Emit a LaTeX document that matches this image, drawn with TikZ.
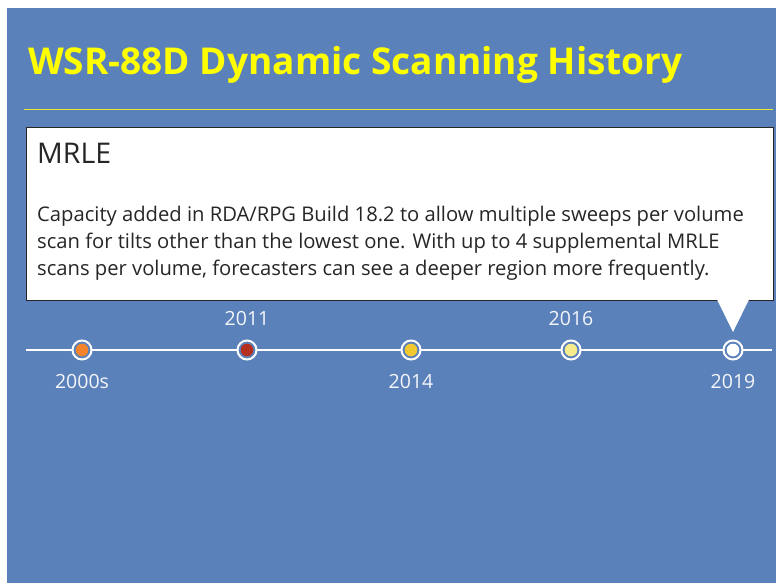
\documentclass[tikz,border=0pt]{standalone}
\usepackage{fontspec}
\setmainfont{Open Sans}
\usepackage{xcolor}
\usetikzlibrary{positioning}

\definecolor{slideblue}{HTML}{5B81BB}
\definecolor{titleyellow}{HTML}{FFFF00}
\definecolor{ruleyellow}{HTML}{E3EA2E}
\definecolor{dotorange}{HTML}{F4842C}
\definecolor{dotred}{HTML}{B3311E}
\definecolor{dotgold}{HTML}{F2C830}
\definecolor{dotpale}{HTML}{F6EC8E}

\begin{document}
\begin{tikzpicture}[
    x=1pt, y=-1pt,
    slidetitle/.style={anchor=base west, inner sep=0pt, font=\fontsize{37}{42}\selectfont\bfseries, text=titleyellow},
    calloutbox/.style={rectangle, draw=black!85, line width=0.9pt, fill=white, anchor=north west, minimum width=747pt, minimum height=173pt, inner sep=0pt},
    headline/.style={anchor=base west, inner sep=0pt, font=\fontsize{28.5}{32}\selectfont, text=black!85},
    bodytext/.style={anchor=base west, inner sep=0pt, align=left, font=\fontsize{20.2}{26.6}\selectfont, text=black!85},
    milestone/.style={circle, draw=white, line width=2pt, fill=slideblue, minimum size=19pt, inner sep=0pt,
        path picture={\fill[#1] (path picture bounding box.center) circle (6.3pt);}},
    yearlabel/.style={font=\fontsize{19.5}{22}\selectfont, text=white!93!slideblue, inner sep=0pt},
    timeline/.style={draw=white, line width=2pt},
]

% page and background
\useasboundingbox (0,0) rectangle (776,583);
\fill[white] (0,0) rectangle (776,583);
\fill[slideblue] (7,8) rectangle (776,583);

\node[slidetitle] (title) at (28,75) {WSR-88D Dynamic Scanning History};
\draw[ruleyellow, line width=1pt] (24,110) -- (773,110);

% callout box
\node[calloutbox] (callout) at (26,127) {};
\coordinate (tip) at (733,332);
\fill[white] (717,299.5) -- (tip) -- (749,299.5) -- cycle;
\node[headline] (mrle) at (37,163) {MRLE};
% base anchor sits on the last line
\node[bodytext] (desc) at (37,275) {Capacity added in RDA/RPG Build 18.2 to allow multiple sweeps per volume\\
scan for tilts other than the lowest one. With up to 4 supplemental MRLE\\
scans per volume, forecasters can see a deeper region more frequently.};

% timeline
\coordinate (lstart) at (26,350);
\coordinate (lend) at (772,350);
\draw[timeline] (lstart) -- (lend);

\node[milestone=dotorange] (m2000) at (82,350) {};
\node[milestone=dotred] (m2011) at (247,350) {};
\node[milestone=dotgold] (m2014) at (411,350) {};
\node[milestone=dotpale] (m2016) at (571,350) {};
\node[milestone=white] (m2019) at (733,350) {};

\node[yearlabel, below=14pt of m2000] {2000s};
\node[yearlabel, above=14pt of m2011] {2011};
\node[yearlabel, below=14pt of m2014] {2014};
\node[yearlabel, above=14pt of m2016] {2016};
\node[yearlabel, below=14pt of m2019] {2019};

\end{tikzpicture}
\end{document}
